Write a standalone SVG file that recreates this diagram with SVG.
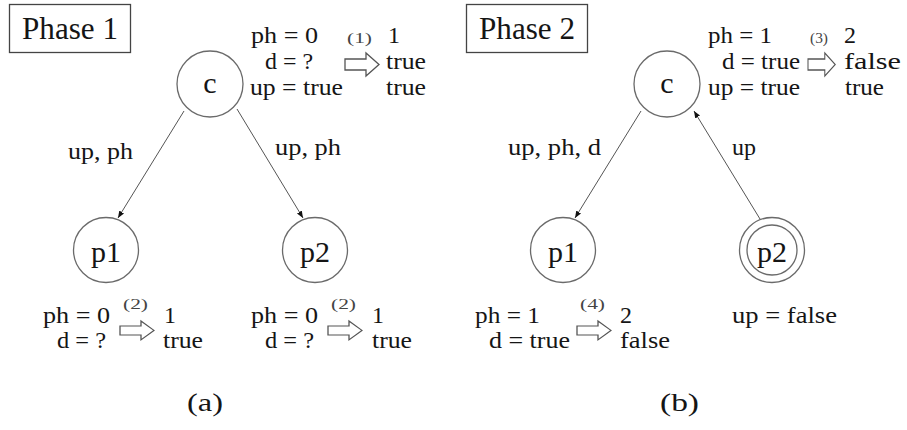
<svg xmlns="http://www.w3.org/2000/svg" width="907" height="430" viewBox="0 0 907 430">
<defs>
<style>
text{font-family:"Liberation Serif","Times New Roman",serif;fill:#151515;font-size:24px}
.t{font-size:32px}
.nl{font-size:30px}
.s{font-size:14px;fill:#444}
.c{font-size:26px}
.n{fill:none;stroke:#6a6a6a;stroke-width:1.3}
.e{fill:none;stroke:#555;stroke-width:1}
.blk{fill:#fff;stroke:#555;stroke-width:1.3}
.box{fill:#fff;stroke:#444;stroke-width:1.3}
</style>
<marker id="ah" viewBox="0 0 10 10" refX="10" refY="5" markerWidth="7" markerHeight="7" orient="auto" markerUnits="userSpaceOnUse">
<path d="M0,1 L10,5 L0,9 Z" fill="#111"/>
</marker>
<path id="barrow" d="M0,6 H21 V0 L34,11.5 L21,23 V17 H0 Z"/>
</defs>
<rect width="907" height="430" fill="#fff"/>

<g id="phase1-label"><rect class="box" x="9.5" y="4.5" width="121" height="48"/><text class="t" x="22" y="39" textLength="96" lengthAdjust="spacingAndGlyphs">Phase 1</text></g>
<g id="phase2-label"><rect class="box" x="466.5" y="4.5" width="121" height="48"/><text class="t" x="479" y="39" textLength="96" lengthAdjust="spacingAndGlyphs">Phase 2</text></g>

<g id="connectors">
<line class="e" x1="184" y1="111" x2="118" y2="218" marker-end="url(#ah)"/>
<line class="e" x1="237" y1="109" x2="303" y2="218" marker-end="url(#ah)"/>
<line class="e" x1="641" y1="111" x2="575" y2="218" marker-end="url(#ah)"/>
<line class="e" x1="760" y1="219" x2="694" y2="111" marker-end="url(#ah)"/>
<text x="68" y="159" textLength="65" lengthAdjust="spacingAndGlyphs">up, ph</text>
<text x="275" y="155" textLength="66" lengthAdjust="spacingAndGlyphs">up, ph</text>
<text x="508" y="155" textLength="93" lengthAdjust="spacingAndGlyphs">up, ph, d</text>
<text x="732" y="155" textLength="24" lengthAdjust="spacingAndGlyphs">up</text>
</g>

<g id="node-c1"><circle class="n" cx="210" cy="84" r="33"/><text class="nl" x="210" y="93" text-anchor="middle">c</text></g>
<g id="node-p1a"><circle class="n" cx="106" cy="250" r="32.5"/><text class="nl" x="106" y="262" text-anchor="middle">p1</text></g>
<g id="node-p2a"><circle class="n" cx="315" cy="250" r="32.5"/><text class="nl" x="315" y="262" text-anchor="middle">p2</text></g>
<g id="node-c2"><circle class="n" cx="667" cy="84" r="33"/><text class="nl" x="667" y="93" text-anchor="middle">c</text></g>
<g id="node-p1b"><circle class="n" cx="563" cy="250" r="32.5"/><text class="nl" x="563" y="262" text-anchor="middle">p1</text></g>
<g id="node-p2b"><circle class="n" cx="772" cy="250" r="32.5"/><circle class="n" cx="772" cy="250" r="25"/><text class="nl" x="772" y="262" text-anchor="middle">p2</text></g>

<g id="state-c1">
<text x="251" y="43" textLength="67" lengthAdjust="spacingAndGlyphs">ph = 0</text>
<text x="265" y="69" textLength="48" lengthAdjust="spacingAndGlyphs">d = ?</text>
<text x="250" y="95" textLength="93" lengthAdjust="spacingAndGlyphs">up = true</text>
<text class="s" x="347" y="43" textLength="25" lengthAdjust="spacingAndGlyphs">(1)</text>
<use href="#barrow" class="blk" x="345" y="53"/>
<text x="388" y="43">1</text>
<text x="386" y="69" textLength="40" lengthAdjust="spacingAndGlyphs">true</text>
<text x="386" y="95" textLength="40" lengthAdjust="spacingAndGlyphs">true</text>
</g>
<g id="state-p1a">
<text x="43" y="323" textLength="67" lengthAdjust="spacingAndGlyphs">ph = 0</text>
<text x="57" y="348" textLength="49" lengthAdjust="spacingAndGlyphs">d = ?</text>
<text class="s" x="123" y="309" textLength="25" lengthAdjust="spacingAndGlyphs">(2)</text>
<use href="#barrow" class="blk" transform="translate(120,321) scale(1,0.82)"/>
<text x="164" y="323">1</text>
<text x="163" y="348" textLength="40" lengthAdjust="spacingAndGlyphs">true</text>
</g>
<g id="state-p2a">
<text x="251" y="323" textLength="67" lengthAdjust="spacingAndGlyphs">ph = 0</text>
<text x="265" y="348" textLength="49" lengthAdjust="spacingAndGlyphs">d = ?</text>
<text class="s" x="331" y="309" textLength="25" lengthAdjust="spacingAndGlyphs">(2)</text>
<use href="#barrow" class="blk" transform="translate(328,321) scale(1,0.82)"/>
<text x="372" y="323">1</text>
<text x="372" y="348" textLength="40" lengthAdjust="spacingAndGlyphs">true</text>
</g>
<g id="state-c2">
<text x="708" y="43" textLength="64" lengthAdjust="spacingAndGlyphs">ph = 1</text>
<text x="722" y="69" textLength="78" lengthAdjust="spacingAndGlyphs">d = true</text>
<text x="708" y="95" textLength="92" lengthAdjust="spacingAndGlyphs">up = true</text>
<text class="s" x="810" y="43" textLength="18" lengthAdjust="spacingAndGlyphs">(3)</text>
<use href="#barrow" class="blk" transform="translate(808,53) scale(0.8,1)"/>
<text x="844" y="43">2</text>
<text x="844" y="69" textLength="57" lengthAdjust="spacingAndGlyphs">false</text>
<text x="845" y="95" textLength="39" lengthAdjust="spacingAndGlyphs">true</text>
</g>
<g id="state-p1b">
<text x="475" y="323" textLength="65" lengthAdjust="spacingAndGlyphs">ph = 1</text>
<text x="489" y="348" textLength="81" lengthAdjust="spacingAndGlyphs">d = true</text>
<text class="s" x="580" y="309" textLength="25" lengthAdjust="spacingAndGlyphs">(4)</text>
<use href="#barrow" class="blk" transform="translate(577,321) scale(1,0.82)"/>
<text x="620" y="323">2</text>
<text x="620" y="348" textLength="50" lengthAdjust="spacingAndGlyphs">false</text>
</g>
<g id="state-p2b"><text x="732" y="323" textLength="105" lengthAdjust="spacingAndGlyphs">up = false</text></g>

<g id="captions">
<text class="c" x="187" y="411" textLength="36" lengthAdjust="spacingAndGlyphs">(a)</text>
<text class="c" x="660" y="411" textLength="39" lengthAdjust="spacingAndGlyphs">(b)</text>
</g>
</svg>
